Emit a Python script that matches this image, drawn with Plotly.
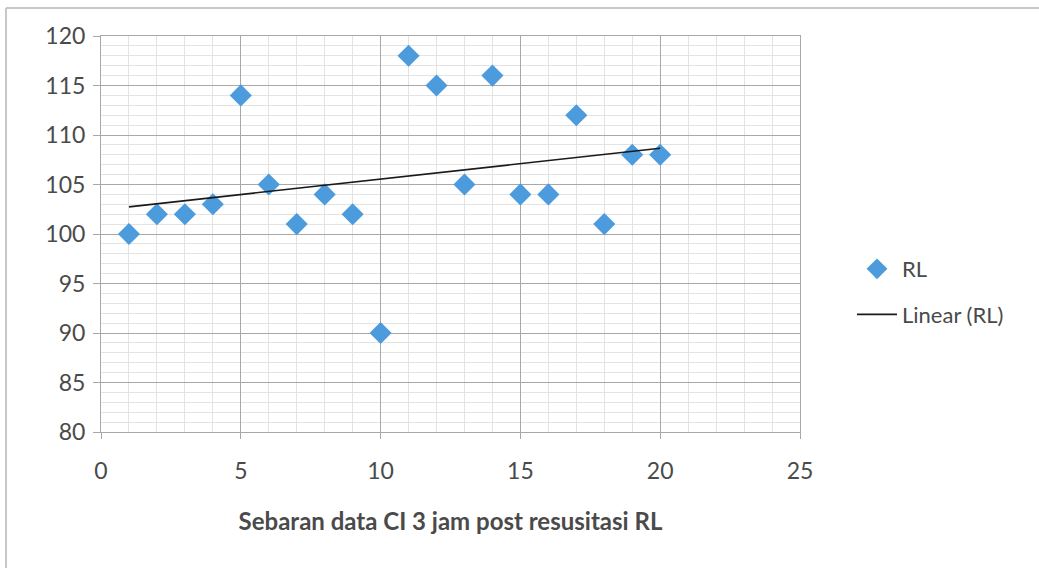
import plotly.graph_objects as go
import numpy as np

x_vals = list(range(1, 21))
rl_vals = [100, 102, 102, 103, 114, 105, 101, 104, 102, 90,
           118, 115, 105, 116, 104, 104, 112, 101, 108, 108]
x_ticks = [0, 5, 10, 15, 20, 25]
y_ticks = [80, 85, 90, 95, 100, 105, 110, 115, 120]
x_title = "Sebaran data CI 3 jam post resusitasi RL"

# least-squares linear trend (as Excel's "Linear" trendline)
slope, intercept = np.polyfit(x_vals, rl_vals, 1)
trend_x = [x_vals[0], x_vals[-1]]
trend_y = [slope * v + intercept for v in trend_x]

FONT = "Lato"
TXT = "#4a4a4a"
W, H = 1039, 568
L, R, T, B = 101, W - 800, 36, H - 432

fig = go.Figure()
fig.add_trace(go.Scatter(
    x=x_vals, y=rl_vals, mode="markers", name="RL", legendgroup="a",
    marker=dict(symbol="diamond", size=17, color="#4B9BDD",
                line=dict(width=0)),
))
fig.add_trace(go.Scatter(
    x=trend_x, y=trend_y, mode="lines", name="Linear (RL)", legendgroup="b",
    line=dict(color="#1a1a1a", width=1.6),
))

axis_common = dict(
    showgrid=True, gridcolor="#A8A8A8", gridwidth=1,
    zeroline=False, showline=True, linecolor="#A8A8A8", linewidth=1,
    mirror=True, ticks="outside", tickcolor="#A8A8A8",
    tickfont=dict(family=FONT, size=23, color=TXT),
)

fig.update_xaxes(
    range=[0, 25], tickvals=x_ticks, ticklen=6,
    minor=dict(dtick=1, showgrid=True, gridcolor="#E3E3E3", gridwidth=1, ticks=""),
    title=dict(text="<b>" + x_title + "</b>", standoff=30,
               font=dict(family=FONT, size=24, color=TXT)),
    ticklabelstandoff=12,
    **axis_common,
)
fig.update_yaxes(
    range=[80, 120], tickvals=y_ticks, ticklen=7,
    minor=dict(dtick=1, showgrid=True, gridcolor="#E3E3E3", gridwidth=1, ticks=""),
    ticklabelstandoff=3,
    **axis_common,
)

def px_x(p):
    return (p - L) / (W - L - R)

def px_y(p):
    return (H - B - p) / (H - T - B)

# outer chart frame
fig.add_shape(type="line", xref="paper", yref="paper",
              x0=px_x(6), x1=px_x(1045), y0=px_y(8), y1=px_y(8),
              line=dict(color="#C8C8C8", width=2))
fig.add_shape(type="line", xref="paper", yref="paper",
              x0=px_x(6), x1=px_x(6), y0=px_y(8), y1=px_y(575),
              line=dict(color="#C8C8C8", width=2))

fig.update_layout(
    width=W, height=H,
    margin=dict(l=L, r=R, t=T, b=B, pad=0),
    paper_bgcolor="white", plot_bgcolor="white",
    font=dict(family=FONT, color=TXT),
    showlegend=True,
    legend=dict(x=px_x(852), y=px_y(248), xanchor="left", yanchor="top",
                font=dict(family=FONT, size=22, color=TXT),
                tracegroupgap=14, bgcolor="rgba(0,0,0,0)",
                itemwidth=40),
)

fig.write_html("out.html")
